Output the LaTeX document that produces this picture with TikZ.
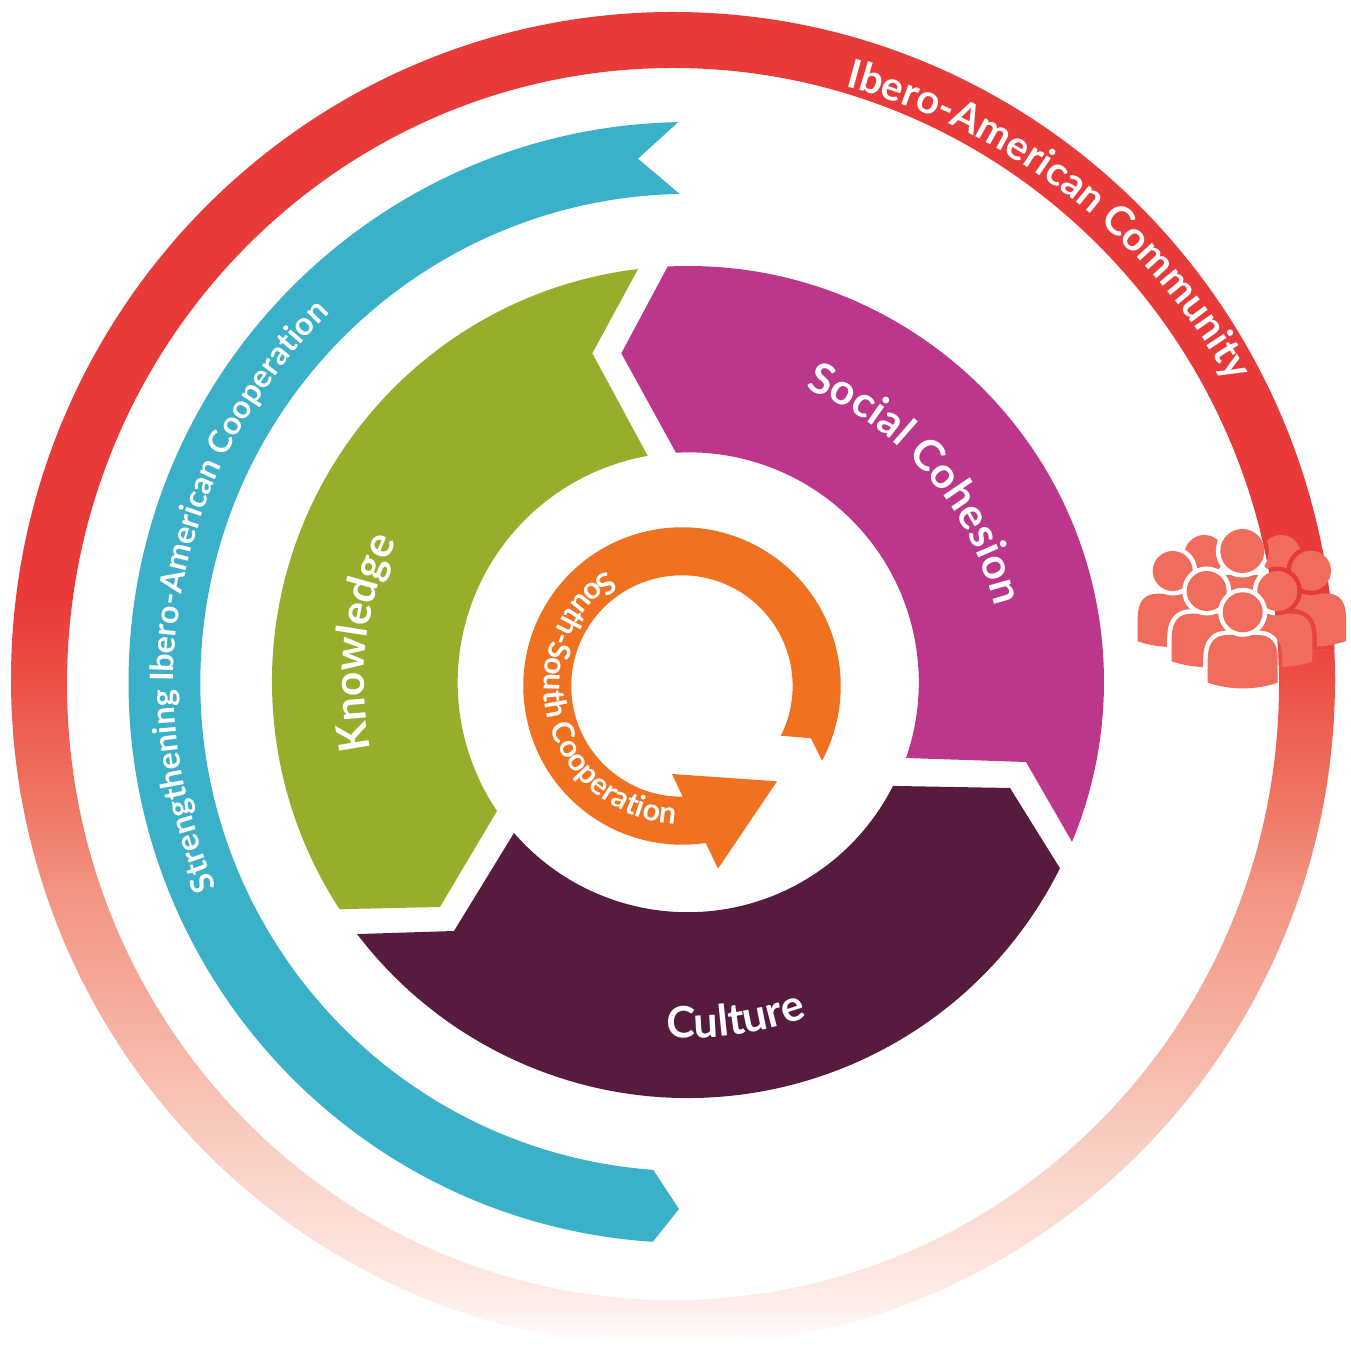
\documentclass[tikz,border=0pt]{standalone}
\usepackage{fontspec}
\setmainfont{Lato}
\usetikzlibrary{decorations.text}
\definecolor{ringred}{HTML}{E83A39}
\definecolor{ringmid}{HTML}{E94340}
\definecolor{ringlow}{HTML}{EC4C44}
\definecolor{teal1}{HTML}{3AB0C9}
\definecolor{green1}{HTML}{96AE2B}
\definecolor{mag1}{HTML}{BC378C}
\definecolor{plum1}{HTML}{561B3E}
\definecolor{orange1}{HTML}{F07120}
\definecolor{person}{HTML}{F06C5C}
\pgfdeclareverticalshading{ringfade}{100bp}{
 rgb(0bp)=(1,1,1);
 rgb(25bp)=(1,1,1);
 rgb(26.7bp)=(.996,.929,.91);
 rgb(32.4bp)=(.976,.812,.769);
 rgb(37.2bp)=(.965,.69,.627);
 rgb(42bp)=(.949,.584,.514);
 rgb(45.7bp)=(.937,.451,.38);
 rgb(50.1bp)=(.925,.31,.275);
 rgb(53bp)=(.91,.227,.224);
 rgb(100bp)=(.91,.227,.224)}
\newcommand{\bodypath}{(-35,-70.4) -- (-35,-47) .. controls (-35,-30) and (-28,-22.7) .. (-15,-22.7) -- (15,-22.7) .. controls (28,-22.7) and (35,-30) .. (35,-47) -- (35,-70.4) .. controls (12,-78) and (-12,-78) .. (-35,-70.4) -- cycle}
\tikzset{
 x=1pt,y=1pt,
 lab/.style={decorate,decoration={text along path,text align={left},text={#1}}}
}
\begin{document}
\begin{tikzpicture}
\useasboundingbox (0,0) rectangle (1351,1347);
% red ring
\path[shading=ringfade,even odd rule] (673,667.5) ellipse [x radius=662,y radius=667.5] (673,663) ellipse [x radius=606,y radius=616];
\path[lab={|\fontsize{40.2}{44}\selectfont\bfseries\color{white}|Ibero-American Community}] (687,656) ++(75.3:624.5) arc[start angle=75.3,end angle=15,radius=624.5];
% teal band
\begin{scope}[shift={(689,664.5)}]
\fill[teal1] (91.1:560.5) arc[start angle=91.1,end angle=266.3,radius=560.5] -- (-10,-526.5) -- (265.8:488.7) arc[start angle=265.8,end angle=91.1,radius=488.7] -- (-51,523.8) -- cycle;
\path[lab={|\fontsize{32.2}{35}\selectfont\bfseries\color{white}|Strengthening Ibero-American Cooperation}] (203.4:515) arc[start angle=203.4,end angle=120,radius=515];
\end{scope}
% sectors
\begin{scope}[shift={(688,665)}]
\fill[green1] (96.9:416) arc[start angle=96.9,end angle=213.1,radius=416] -- (-248,-225) -- (-191,-129) arc[start angle=214,end angle=100,radius=230] -- (-95.7,328.7) -- cycle;
\fill[mag1] (92.8:416) arc[start angle=92.8,end angle=-22.6,radius=416] -- (338,-80) -- (218,-76) arc[start angle=-19.2,end angle=93.2,radius=230] -- (-66.7,328.7) -- cycle;
\fill[plum1] (-26.6:416) arc[start angle=-26.6,end angle=-142.7,radius=416] -- (-234,-249) -- (-174,-151) arc[start angle=220.96,end angle=333.2,radius=230] -- (322,-106) -- cycle;
\path[lab={|\fontsize{42.7}{46}\selectfont\bfseries\color{white}|Social Cohesion}] (68.2:316) arc[start angle=68.2,end angle=0,radius=316];
\path[lab={|\fontsize{42.5}{46}\selectfont\bfseries\color{white}|Knowledge}] (192:324) arc[start angle=192,end angle=140,radius=324];
\path[lab={|\fontsize{43.3}{47}\selectfont\bfseries\color{white}|Culture}] (-93.5:356) arc[start angle=-93.5,end angle=-50,radius=356];
\end{scope}
% orange arrow
\begin{scope}[shift={(682,661)}]
\fill[orange1] (-28.1:158.7) arc[start angle=-28.1,end angle=278.6,radius=158.7] -- (36,-182.7) -- (95,-95.3) -- (-10,-88) -- (0.7,-110.7) arc[start angle=270.4,end angle=-26.7,radius=110.7] -- (129,-52.3) -- cycle;
\path[lab={|\fontsize{30.4}{33}\selectfont\bfseries\color{white}|South-South Cooperation}] (123:138) arc[start angle=123,end angle=290,radius=138];
\end{scope}
% people
\newcommand{\cut}[1]{%
 \begin{scope}
  \clip ({673-\hx},{663-\hy}) ellipse [x radius=606,y radius=616];
  \path[draw=white,line width=9pt] #1;
 \end{scope}
 \begin{scope}[even odd rule]
  \clip ({-\hx-2000},{-\hy-2000}) rectangle ({-\hx+2000},{-\hy+2000}) ({673-\hx},{663-\hy}) ellipse [x radius=606,y radius=616];
  \clip ({673-\hx},{667.5-\hy}) ellipse [x radius=662,y radius=667.5];
  \begin{scope}
   \clip ({-\hx},{737-\hy}) rectangle ({2000-\hx},{1347-\hy});
   \path[draw=ringred,line width=9pt] #1;
  \end{scope}
  \begin{scope}
   \clip ({-\hx},{697-\hy}) rectangle ({2000-\hx},{737-\hy});
   \path[draw=ringmid,line width=9pt] #1;
  \end{scope}
  \begin{scope}
   \clip ({-\hx},{-\hy}) rectangle ({2000-\hx},{697-\hy});
   \path[draw=ringlow,line width=9pt] #1;
  \end{scope}
 \end{scope}
 \fill[person] #1;}
\newcommand{\man}[3]{%
 \def\hx{#1}\def\hy{#2}%
 \begin{scope}[shift={(#1,#2)}]
  \ifnum#3=1 \cut{\bodypath}\fi
  \cut{(0,0) circle[radius=20]}
 \end{scope}}
\man{1204.3}{792}{0}
\man{1281}{792}{0}
\man{1172.7}{776}{1}
\man{1311}{776.3}{1}
\fill[person] (1226,772) rectangle (1258,750);
\begin{scope}[shift={(1242.3,796)}]
\def\hx{1242.3}\def\hy{796}
\cut{(0,0) circle[radius=22]}
\end{scope}
\man{1206.7}{756}{1}
\man{1277.3}{756}{1}
\man{1242.7}{734.7}{1}
\end{tikzpicture}
\end{document}
